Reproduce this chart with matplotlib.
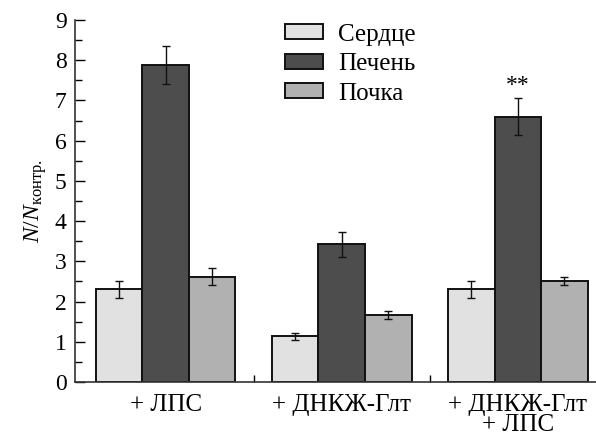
import matplotlib
matplotlib.use('Agg')
import matplotlib.pyplot as plt
import numpy as np

# data
grupos = ['+ ЛПС', '+ ДНКЖ-Глт', '+ ДНКЖ-Глт\n+ ЛПС']
organos = ['Сердце', 'Печень', 'Почка']
serdtse = [2.30, 1.14, 2.30]
serdtse_err = [0.21, 0.09, 0.22]
pechen = [7.88, 3.42, 6.60]
pechen_err = [0.48, 0.30, 0.46]
pochka = [2.62, 1.66, 2.51]
pochka_err = [0.21, 0.10, 0.11]
signif_y = 7.12

plt.rcParams['font.family'] = ['Liberation Serif', 'DejaVu Serif']
plt.rcParams['mathtext.fontset'] = 'custom'
plt.rcParams['mathtext.rm'] = 'Liberation Serif'
plt.rcParams['mathtext.it'] = 'Liberation Serif:italic'

fig = plt.figure(figsize=(5.96, 4.37), dpi=100)
ax = fig.add_axes([75 / 596, 55 / 437, 521 / 596, 362 / 437])

colores = ['#e1e1e1', '#4d4d4d', '#b1b1b1']
x = np.arange(len(grupos))
w = 0.264
series = [(serdtse, serdtse_err), (pechen, pechen_err), (pochka, pochka_err)]
for i, (vals, errs) in enumerate(series):
    ax.bar(x + (i - 1) * w, vals, w, color=colores[i], edgecolor='#111111',
           linewidth=1.4, label=organos[i], zorder=2)
    ax.errorbar(x + (i - 1) * w, vals, yerr=errs, fmt='none', ecolor='#111111',
                elinewidth=1.0, capsize=3, capthick=1.0, zorder=3)

ax.text(x[2], signif_y, '**', ha='center', va='bottom', fontsize=17)

ax.set_xlim(-0.514, 0.443 + 2)
ax.set_ylim(0, 9)
ax.set_yticks(range(10))
ax.set_yticks(np.arange(0.5, 9, 1), minor=True)
ax.tick_params(axis='y', direction='in', length=7, width=1.0, labelsize=17, pad=6)
ax.tick_params(axis='y', which='minor', direction='in', length=5, width=1.0)

# group separator ticks on the x axis
ax.set_xticks([0.5, 1.5])
ax.set_xticklabels([])
ax.tick_params(axis='x', direction='in', length=5, width=1.0)
for xi, lab in zip(x, grupos):
    ax.text(xi, -0.3, lab, ha='center', va='top', fontsize=18,
            linespacing=0.9, transform=ax.transData, clip_on=False)

for s in ['top', 'right']:
    ax.spines[s].set_visible(False)
for s in ['left', 'bottom']:
    ax.spines[s].set_linewidth(1.2)
    ax.spines[s].set_color('#333333')

ax.set_ylabel(r'$N/N_{\mathrm{контр.}}$', fontsize=17, labelpad=4)

ax.legend(loc='upper left', bbox_to_anchor=(0.403, 0.99), frameon=False,
          fontsize=18, handlelength=1.52, handleheight=0.56, handletextpad=0.6,
          labelspacing=0.3, borderpad=0, borderaxespad=0)

fig.savefig('out.png', dpi=100)
